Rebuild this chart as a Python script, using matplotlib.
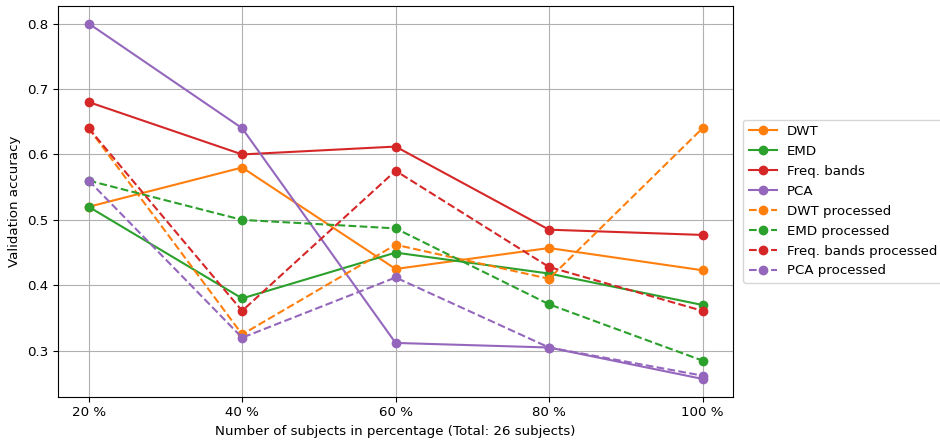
import matplotlib
matplotlib.use("Agg")
import matplotlib.pyplot as plt

plt.rcParams["font.size"] = 9.6

x_labels = ["20 %", "40 %", "60 %", "80 %", "100 %"]
x_vals = [20, 40, 60, 80, 100]

dwt = [0.52, 0.58, 0.425, 0.457, 0.423]
emd = [0.52, 0.38, 0.45, 0.418, 0.37]
freq = [0.68, 0.60, 0.612, 0.485, 0.477]
pca = [0.80, 0.64, 0.312, 0.305, 0.257]
dwt_p = [0.64, 0.325, 0.462, 0.41, 0.64]
emd_p = [0.56, 0.50, 0.487, 0.371, 0.285]
freq_p = [0.64, 0.361, 0.575, 0.428, 0.361]
pca_p = [0.56, 0.32, 0.412, 0.305, 0.262]

series = [
    ("DWT", dwt, "tab:orange", "-"),
    ("EMD", emd, "tab:green", "-"),
    ("Freq. bands", freq, "tab:red", "-"),
    ("PCA", pca, "tab:purple", "-"),
    ("DWT processed", dwt_p, "tab:orange", "--"),
    ("EMD processed", emd_p, "tab:green", "--"),
    ("Freq. bands processed", freq_p, "tab:red", "--"),
    ("PCA processed", pca_p, "tab:purple", "--"),
]

fig = plt.figure(figsize=(9.4, 4.42), dpi=100)
ax = fig.add_axes([0.0617, 0.1025, 0.7183, 0.8845])
for name, vals, color, ls in series:
    ax.plot(x_vals, vals, ls, color=color, marker="o", label=name, markersize=6, linewidth=1.5)

ax.set_xticks(x_vals)
ax.set_xticklabels(x_labels)
ax.grid(True, color="#b0b0b0", linewidth=0.8)
ax.set_xlabel("Number of subjects in percentage (Total: 26 subjects)")
ax.set_ylabel("Validation accuracy")
ax.legend(loc="center left", bbox_to_anchor=(1.005, 0.5), handlelength=2.1, labelspacing=0.52)

fig.savefig("out.png", dpi=100)
